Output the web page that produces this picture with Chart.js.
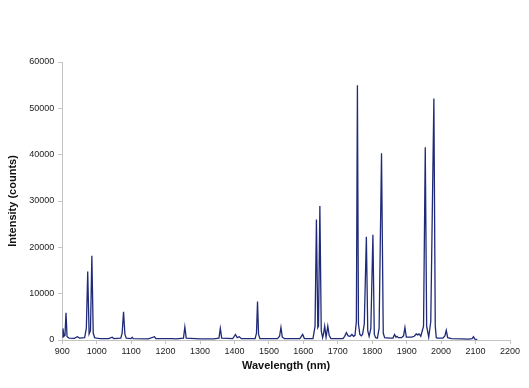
<!DOCTYPE html>
<html>
<head>
<meta charset="utf-8">
<script src="https://cdn.jsdelivr.net/npm/chart.js@4/dist/chart.umd.min.js"></script>
<style>
  html, body { margin: 0; padding: 0; background: #fff; }
  #wrap { width: 529px; height: 388px; }
</style>
</head>
<body>
<div id="wrap"><canvas id="spectrum" width="529" height="388"></canvas></div>
<script>
/* ─── Data ──────────────────────────────────────────────────────────────── */
const wavelength = [
  900, 902, 905, 908, 911, 914, 920, 935, 944, 950,
  965, 970, 974, 978, 982, 986, 990, 994, 1000, 1010,
  1035, 1045, 1050, 1070, 1074, 1078, 1082, 1086, 1100, 1103,
  1106, 1150, 1168, 1172, 1220, 1230, 1252, 1256, 1260, 1300,
  1340, 1355, 1359, 1363, 1395, 1403, 1408, 1414, 1420, 1460,
  1464, 1467, 1470, 1474, 1525, 1531, 1535, 1539, 1545, 1590,
  1598, 1603, 1628, 1634, 1638, 1642, 1644, 1648, 1652, 1656,
  1659, 1662, 1666, 1671, 1675, 1680, 1715, 1720, 1725, 1730,
  1736, 1741, 1746, 1750, 1754, 1757, 1760, 1764, 1768, 1772,
  1777, 1783, 1787, 1791, 1796, 1802, 1806, 1810, 1815, 1820,
  1827, 1832, 1836, 1850, 1860, 1865, 1869, 1872, 1876, 1885,
  1891, 1895, 1899, 1915, 1922, 1928, 1932, 1936, 1941, 1949,
  1954, 1958, 1964, 1970, 1979, 1983, 1986, 1990, 2005, 2011,
  2015, 2019, 2030, 2060, 2080, 2090, 2094, 2098, 2105
];
const intensity = [
  600, 2500, 800, 1000, 5900, 700, 400, 350, 700, 400,
  500, 2500, 14800, 1300, 2000, 18200, 1500, 500, 400, 300,
  300, 600, 300, 400, 1500, 6100, 1200, 400, 300, 600,
  300, 250, 700, 300, 300, 250, 400, 2800, 400, 250,
  250, 400, 2500, 400, 300, 1200, 500, 700, 300, 300,
  1500, 8300, 1200, 300, 300, 800, 2700, 600, 300, 300,
  1200, 300, 300, 3000, 26000, 2700, 3000, 28900, 2000, 500,
  1500, 3000, 600, 3000, 1000, 300, 300, 800, 1600, 900,
  800, 1200, 800, 1000, 4000, 55000, 3500, 1200, 900, 1200,
  3500, 22300, 2000, 800, 2500, 22700, 1200, 500, 400, 2500,
  40300, 1500, 500, 400, 400, 1200, 600, 800, 500, 500,
  900, 2700, 600, 600, 800, 1300, 1100, 1300, 800, 3000,
  41600, 3000, 600, 4000, 52100, 3000, 500, 400, 400, 900,
  2100, 500, 300, 250, 200, 300, 700, 200, 100
];
const xTicks = { min: 900, max: 2200, step: 100 };
const yTicks = { min: 0, max: 60000, step: 10000 };

/* ─── Chart ─────────────────────────────────────────────────────────────── */
const points = wavelength.map((w, i) => ({ x: w, y: intensity[i] }));
const axisGrey = '#c4c4c4';
const tickFont = { family: 'Liberation Sans, Arial, sans-serif', size: 9 };
const titleFont = { family: 'Liberation Sans, Arial, sans-serif', size: 11, weight: 'bold' };

new Chart(document.getElementById('spectrum'), {
  type: 'line',
  data: {
    datasets: [{
      label: 'Intensity',
      data: points,
      borderColor: '#1f2a78',
      borderWidth: 1.3,
      pointRadius: 0,
      tension: 0,
      fill: false
    }]
  },
  options: {
    responsive: false,
    animation: false,
    plugins: { legend: { display: false }, tooltip: { enabled: false } },
    layout: { padding: { top: 62, right: 19, bottom: 11, left: 2 } },
    scales: {
      x: {
        type: 'linear',
        min: xTicks.min, max: xTicks.max,
        ticks: { stepSize: xTicks.step, color: '#222', font: tickFont, maxRotation: 0, padding: 2, callback: v => String(v) },
        grid: { display: true, drawOnChartArea: false, drawTicks: true, tickLength: 4, color: axisGrey },
        border: { display: true, color: axisGrey },
        title: { display: true, text: 'Wavelength (nm)', color: '#111', font: titleFont, padding: { top: 1 } }
      },
      y: {
        min: yTicks.min, max: yTicks.max,
        ticks: { stepSize: yTicks.step, color: '#222', font: tickFont, padding: 4, callback: v => String(v) },
        grid: { display: true, drawOnChartArea: false, drawTicks: true, tickLength: 4, color: axisGrey },
        border: { display: true, color: axisGrey },
        title: { display: true, text: 'Intensity (counts)', color: '#111', font: titleFont, padding: { bottom: 6 } }
      }
    }
  }
});
</script>
</body>
</html>
